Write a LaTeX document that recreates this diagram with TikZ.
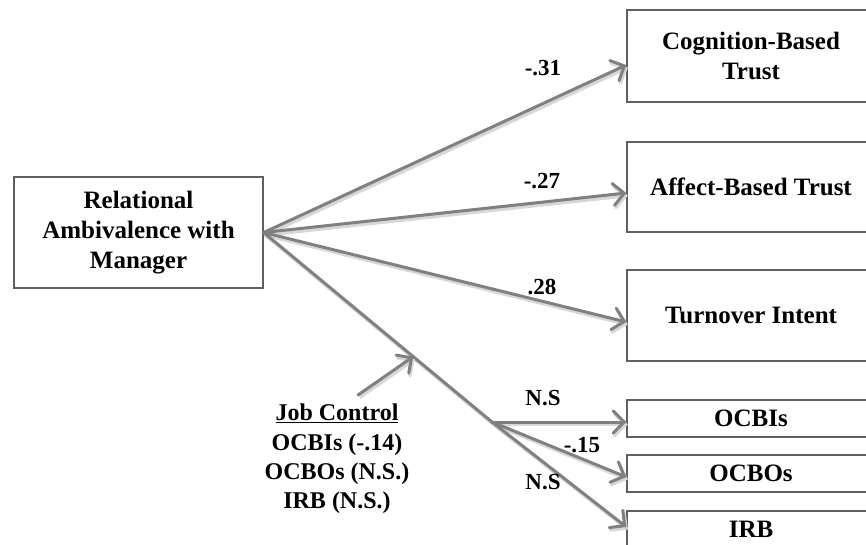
\documentclass[tikz,border=0pt]{standalone}
\usepackage{fontspec}
\setmainfont{Liberation Serif}
\usetikzlibrary{arrows.meta,calc}
\definecolor{linkgray}{RGB}{128,128,128}
\definecolor{shadegray}{RGB}{215,215,215}
\definecolor{framegray}{RGB}{95,95,95}
\begin{document}
\begin{tikzpicture}[x=1pt,y=-1pt,
  box/.style={draw=framegray, line width=1.3pt, fill=white, inner sep=0pt,
    align=center, font=\fontsize{25}{30}\selectfont\bfseries},
  rbox/.style={box, minimum width=248pt},
  wire/.style={draw=linkgray, line width=3pt, line cap=round, line join=round,
    preaction={draw=shadegray, line width=3.5pt,
      transform canvas={shift={(1.5pt,-2.5pt)}}}},
  link/.style={wire, -{Straight Barb[length=11pt,width=22pt,line cap=round]}},
  coef/.style={font=\fontsize{23}{27}\selectfont\bfseries, inner sep=0pt}]
\useasboundingbox (0,0) rectangle (866,544);
\clip (0,0) rectangle (866,544);

% source construct
\node[box, minimum width=249pt, minimum height=111pt] (ram) at (138.5,232.5)
  {Relational\\Ambivalence with\\Manager};

% outcome constructs (right edges run off the page)
\node[rbox, minimum height=92pt] (cog) at (751,56) {Cognition-Based\\Trust};
\node[rbox, minimum height=90pt] (aff) at (751,187) {Affect-Based Trust};
\node[rbox, minimum height=91pt] (turn) at (751,315.5) {Turnover Intent};
\node[rbox, minimum height=37pt] (ocbi) at (751,418.5) {OCBIs};
\node[rbox, minimum height=37pt] (ocbo) at (751,473.5) {OCBOs};
\node[rbox, minimum height=37pt] (irb) at (751,529.5) {IRB};

% direct paths
\draw[link] (ram.east) -- ([yshift=-9pt]cog.west);
\draw[link] (ram.east) -- ([yshift=-6pt]aff.west);
\draw[link] (ram.east) -- ([yshift=-6.5pt]turn.west);

% path to the behaviour outcomes, split at a branch point
\coordinate (br) at (492,422);
\draw[wire] (ram.east) -- (br);
\draw[link] (br) -- ([yshift=-3.5pt]ocbi.west);
\draw[link] (br) -- ([yshift=-3.5pt]ocbo.west);
\draw[link] (br) -- ([yshift=2.5pt]irb.west);

% moderator
\coordinate (modtail) at (358,395);
\coordinate (modhead) at ($(ram.east)!0.655!(br)$);
\draw[link] (modtail) -- (modhead);
\node[inner sep=0pt, align=center, font=\fontsize{24}{29.3}\selectfont\bfseries]
  (jc) at (337,459) {\underline{Job Control}\\OCBIs (-.14)\\OCBOs (N.S.)\\IRB (N.S.)};

% path coefficients
\node[coef] (c1) at (543,68) {-.31};
\node[coef] (c2) at (542,181) {-.27};
\node[coef] (c3) at (542,287) {.28};
\node[coef] (c4) at (543,398) {N.S};
\node[coef] (c5) at (582,445) {-.15};
\node[coef] (c6) at (543,482) {N.S};
\end{tikzpicture}
\end{document}
